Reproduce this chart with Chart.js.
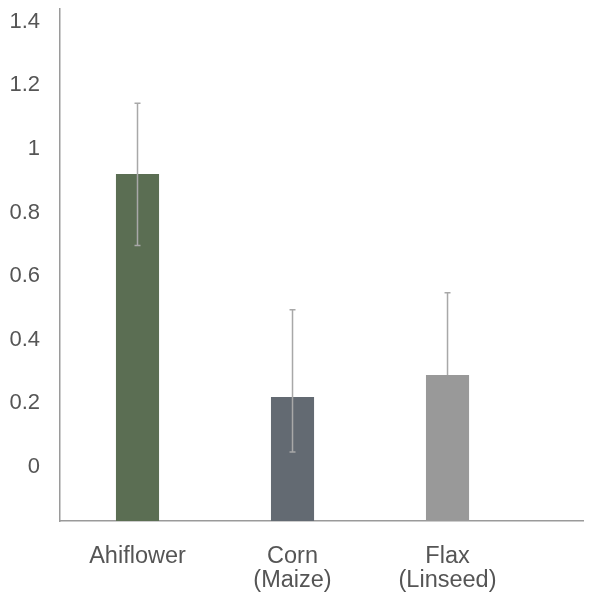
<!DOCTYPE html>
<html>
<head>
<meta charset="utf-8">
<script src="https://cdn.jsdelivr.net/npm/chart.js@4/dist/chart.umd.min.js"></script>
<style>
html,body{margin:0;padding:0;background:#fff;}
#wrap{width:591px;height:593px;}
</style>
</head>
<body>
<div id="wrap"><canvas id="c" width="591" height="593"></canvas></div>
<script>
const categories = [['Ahiflower'], ['Corn', '(Maize)'], ['Flax', '(Linseed)']];
const values = [0.921, 0.220, 0.289];
const errHigh = [1.144, 0.494, 0.548];
const errLow = [0.696, 0.047, null];
const yTicks = [0, 0.2, 0.4, 0.6, 0.8, 1, 1.2, 1.4];
const barColors = ['#5b6e53', '#636a72', '#999999'];

const Y_MIN = -0.17, Y_MAX = 1.44;
const textColor = '#555555';
const fontFamily = '"Liberation Sans", Arial, Helvetica, sans-serif';

const errorBars = {
  id: 'errorBars',
  afterDatasetsDraw(chart) {
    const ctx = chart.ctx;
    const meta = chart.getDatasetMeta(0);
    const ys = chart.scales.y;
    ctx.save();
    ctx.strokeStyle = '#a8a8a8';
    ctx.lineWidth = 1.5;
    meta.data.forEach((bar, i) => {
      const x = bar.x;
      const top = ys.getPixelForValue(errHigh[i]);
      const low = errLow[i] == null ? bar.y : ys.getPixelForValue(errLow[i]);
      ctx.beginPath();
      ctx.moveTo(x, top);
      ctx.lineTo(x, low);
      ctx.moveTo(x - 3, top);
      ctx.lineTo(x + 3, top);
      if (errLow[i] != null) {
        ctx.moveTo(x - 3, low);
        ctx.lineTo(x + 3, low);
      }
      ctx.stroke();
    });
    ctx.restore();
  }
};

new Chart(document.getElementById('c'), {
  type: 'bar',
  data: {
    datasets: [{
      data: values.map((v, i) => ({x: i, y: v})),
      backgroundColor: barColors,
      base: Y_MIN,
      barPercentage: 1,
      categoryPercentage: 0.278
    }]
  },
  options: {
    responsive: false,
    animation: false,
    layout: {padding: {top: 9, right: 8, left: 0, bottom: 0}},
    plugins: {legend: {display: false}, tooltip: {enabled: false}},
    scales: {
      x: {
        type: 'linear',
        offset: false,
        min: -0.5,
        max: 2.874,
        grid: {display: false, drawTicks: false},
        border: {display: true, color: '#9a9a9a', width: 1.5},
        afterBuildTicks(scale) {
          scale.ticks = categories.map((c, i) => ({value: i}));
        },
        afterFit(scale) {
          scale.height = 72;
          scale.paddingLeft = 0; scale.paddingRight = 0;
        },
        ticks: {
          autoSkip: false,
          maxRotation: 0,
          padding: 24,
          color: textColor,
          font: {family: fontFamily, size: 23.5, lineHeight: 1.0},
          callback: (v) => categories[v]
        }
      },
      y: {
        min: Y_MIN,
        max: Y_MAX,
        grid: {display: false, drawTicks: false},
        border: {display: true, color: '#9a9a9a', width: 1.5},
        afterBuildTicks(scale) {
          scale.ticks = yTicks.map(v => ({value: v}));
        },
        afterFit(scale) {
          scale.width = 60;
          scale.paddingTop = 0; scale.paddingBottom = 0;
        },
        ticks: {
          padding: 20,
          color: textColor,
          font: {family: fontFamily, size: 22},
          callback: (v) => String(v)
        }
      }
    }
  },
  plugins: [errorBars]
});
</script>
</body>
</html>
